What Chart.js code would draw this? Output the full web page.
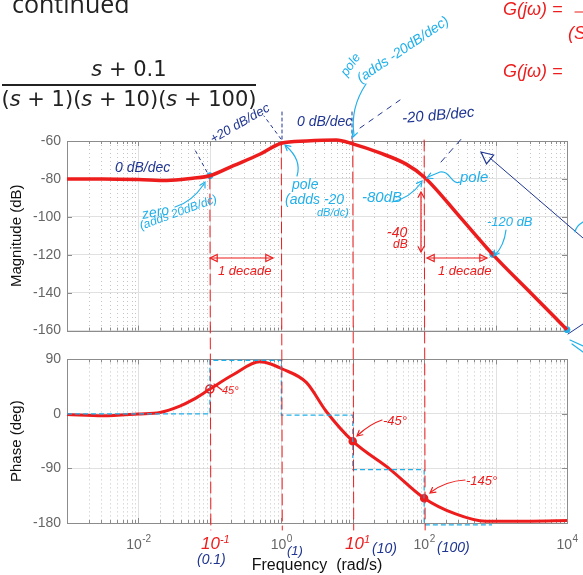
<!DOCTYPE html>
<html>
<head>
<meta charset="utf-8">
<script src="https://cdn.jsdelivr.net/npm/chart.js@4.4.0/dist/chart.umd.min.js"></script>
<style>
  html, body { margin: 0; padding: 0; background: #fff; }
  body { width: 583px; height: 575px; position: relative; overflow: hidden; }
  canvas { position: absolute; left: 0; }
  #mag { top: 120px; }
  #phase { top: 345px; }
  #ink { position: absolute; left: 0; top: 0; z-index: 2; pointer-events: none; }
  .t { position: absolute; white-space: nowrap; z-index: 3; line-height: 1;
       font-family: "Liberation Sans Narrow", "Liberation Sans", sans-serif; font-style: italic; }
  .t sup { font-size: 65%; vertical-align: 0.55em; line-height: 0; }
  .blue { color: #1f3591; }
  .cyan { color: #22b0ea; }
  .red { color: #ee1d1d; }
  .math { position: absolute; left: 0; width: 258px; text-align: center; z-index: 3;
          font-family: "DejaVu Sans", sans-serif; font-size: 21px; color: #222; line-height: 1; }
</style>
</head>
<body>

<div class="t" style="left:12px;top:-9px;font-family:'Open Sans',sans-serif;font-style:normal;font-size:25px;color:#222;">continued</div>
<div class="math" style="top:59px;"><i>s</i> + 0.1</div>
<div style="position:absolute;left:2px;top:84px;width:254px;height:1.5px;background:#222;"></div>
<div class="math" style="top:89px;">(<i>s</i> + 1)(<i>s</i> + 10)(<i>s</i> + 100)</div>

<canvas id="mag" width="583" height="225"></canvas>
<canvas id="phase" width="583" height="230"></canvas>
<svg id="ink" width="583" height="575"></svg>
<div id="notes"></div>

<script>
// values
const magFreq = [0.001, 0.00316, 0.01, 0.025, 0.0575, 0.1, 0.214, 0.5, 1, 2.24, 5.9, 10, 24, 56, 100, 316, 912, 3162, 10000];
const magDb = [-80, -80, -80.3, -80.8, -79.6, -78.3, -73, -67, -61.2, -60, -59.5, -61.5, -66.3, -72.2, -79, -100, -119.8, -140.4, -159.5];

const phaseFreq = [0.001, 0.00316, 0.01, 0.02, 0.038, 0.059, 0.1, 0.214, 0.5, 0.71, 1, 2.24, 4.27, 10, 33, 100, 275, 724, 3162, 10000];
const phaseDeg = [-1, -3, 0, 2.5, 13, 24, 41, 65, 86, 82.5, 75, 52, 4, -45, -91, -139, -165, -177, -177, -176];

const asymFreq = [0.001, 0.1, 1, 10, 100, 891];
const asymDeg = [0, 88.5, -2, -92, -183, -183];

const magMarkFreq = [0.1, 912, 10000];
const magMarkDb = [-78.3, -119.8, -159.5];
const phaseMarkFreq = [0.1, 10, 100];
const phaseMarkDeg = [41, -45, -139];

const freqTicks = [0.01, 1, 100, 10000];
const freqTickExp = ['-2', '0', '2', '4'];
const magTicks = [-160, -140, -120, -100, -80, -60];
const phaseTicks = [-180, -90, 0, 90];

const breakFreq = [0.1, 1, 10, 100];

const red = '#ee1d1d';
const cyan = '#22b0ea';
const blue = '#1f3591';
const gridGray = '#e1e1e1';
const boxGray = '#8c8c8c';
const tickGray = '#666';
const tickFont = { family: 'Liberation Sans', size: 14 };

const pts = (xs, ys) => xs.map((x, i) => ({ x: x, y: ys[i] }));

function seg(ctx, x1, y1, x2, y2) {
  ctx.beginPath();
  ctx.moveTo(x1, y1);
  ctx.lineTo(x2, y2);
  ctx.stroke();
}

// matlab style grid + box
const frame = {
  id: 'frame',
  beforeDatasetsDraw(chart) {
    const { ctx, chartArea: a, scales: { x, y } } = chart;
    ctx.save();
    ctx.lineWidth = 1;
    ctx.strokeStyle = '#c4c4c4';
    ctx.setLineDash([1, 3]);
    for (let d = -3; d < 4; d++) {
      for (let k = 2; k < 10; k++) {
        const px = Math.round(x.getPixelForValue(k * Math.pow(10, d))) + 0.5;
        seg(ctx, px, a.top, px, a.bottom);
      }
    }
    ctx.setLineDash([]);
    ctx.strokeStyle = gridGray;
    for (let d = -2; d < 4; d++) {
      const px = Math.round(x.getPixelForValue(Math.pow(10, d))) + 0.5;
      seg(ctx, px, a.top, px, a.bottom);
    }
    ctx.strokeStyle = boxGray;
    for (let d = -3; d < 4; d++) {
      for (let k = 1; k < 10; k++) {
        const px = Math.round(x.getPixelForValue(k * Math.pow(10, d))) + 0.5;
        const len = k === 1 ? 5 : 3;
        seg(ctx, px, a.top, px, a.top + len);
        seg(ctx, px, a.bottom, px, a.bottom - len);
      }
    }
    y.ticks.forEach(t => {
      const py = Math.round(y.getPixelForValue(t.value)) + 0.5;
      seg(ctx, a.left, py, a.left + 5, py);
      seg(ctx, a.right, py, a.right - 5, py);
    });
    ctx.strokeRect(Math.round(a.left) + 0.5, Math.round(a.top) + 0.5, Math.round(a.right - a.left), Math.round(a.bottom - a.top));
    ctx.restore();
  }
};

// 10 with a raised exponent under each decade tick
const expLabels = {
  id: 'expLabels',
  afterDraw(chart) {
    const { ctx, chartArea: a, scales: { x } } = chart;
    ctx.save();
    ctx.fillStyle = tickGray;
    ctx.textBaseline = 'alphabetic';
    x.ticks.forEach((t, i) => {
      const px = x.getPixelForValue(t.value);
      ctx.font = '14px "Liberation Sans"';
      const w1 = ctx.measureText('10').width;
      ctx.font = '10px "Liberation Sans"';
      const w2 = ctx.measureText(freqTickExp[i]).width;
      const left = px - (w1 + w2) / 2;
      ctx.font = '14px "Liberation Sans"';
      ctx.fillText('10', left, a.bottom + 26);
      ctx.font = '10px "Liberation Sans"';
      ctx.fillText(freqTickExp[i], left + w1 + 0.5, a.bottom + 19);
    });
    ctx.restore();
  }
};

function xAxis(labels) {
  return {
    type: 'logarithmic',
    min: 0.001,
    max: 10000,
    grid: { display: false, drawTicks: false },
    border: { display: false },
    afterBuildTicks: s => { s.ticks = freqTicks.map(v => ({ value: v })); },
    ticks: { display: false },
    title: {
      display: labels,
      text: 'Frequency  (rad/s)',
      color: '#111',
      font: { family: 'Liberation Sans', size: 16 },
      padding: { top: 0, bottom: 0 }
    },
    afterFit: s => {
      s.height = labels ? 52 : 0;
      s.paddingLeft = 0;
      s.paddingRight = 0;
    }
  };
}

function yAxis(min, max, ticks, title) {
  return {
    min: min,
    max: max,
    afterBuildTicks: s => { s.ticks = ticks.map(v => ({ value: v })); },
    grid: { color: gridGray, drawTicks: false },
    border: { display: false },
    ticks: { color: tickGray, font: tickFont, padding: 6, callback: v => String(v) },
    title: {
      display: true,
      text: title,
      color: '#111',
      font: { family: 'Liberation Sans', size: 15 },
      padding: { top: 8, bottom: 0 }
    },
    afterFit: s => { s.width = 67; }
  };
}

const baseOptions = {
  responsive: false,
  animation: false,
  devicePixelRatio: 1,
  events: [],
  plugins: { legend: { display: false }, tooltip: { enabled: false } }
};

const magChart = new Chart(document.querySelector('#mag'), {
  type: 'line',
  data: {
    datasets: [{
      data: pts(magFreq, magDb),
      borderColor: red,
      borderWidth: 3.5,
      pointRadius: 0,
      cubicInterpolationMode: 'monotone',
      clip: 4
    }, {
      data: pts(magMarkFreq, magMarkDb),
      showLine: false,
      pointRadius: 3,
      pointBackgroundColor: cyan,
      pointBorderColor: cyan,
      clip: 6
    }]
  },
  options: Object.assign({}, baseOptions, {
    layout: { padding: { top: 21, right: 16, bottom: 8, left: 0 } },
    scales: { x: xAxis(false), y: yAxis(-160, -60, magTicks, 'Magnitude (dB)') }
  }),
  plugins: [frame]
});

const phaseChart = new Chart(document.querySelector('#phase'), {
  type: 'line',
  data: {
    datasets: [{
      data: pts(asymFreq, asymDeg),
      borderColor: cyan,
      borderWidth: 1.2,
      borderDash: [5, 3],
      stepped: true,
      pointRadius: 0,
      clip: 5
    }, {
      data: pts(phaseFreq, phaseDeg),
      borderColor: red,
      borderWidth: 3,
      pointRadius: 0,
      cubicInterpolationMode: 'monotone',
      clip: 4
    }, {
      data: pts(phaseMarkFreq, phaseMarkDeg),
      showLine: false,
      pointRadius: [4, 3.5, 3.5],
      pointBorderWidth: 1.5,
      pointBackgroundColor: ['rgba(0,0,0,0)', red, red],
      pointBorderColor: red
    }]
  },
  options: Object.assign({}, baseOptions, {
    layout: { padding: { top: 8, right: 16, bottom: 0, left: 0 } },
    scales: { x: xAxis(true), y: yAxis(-180, 90, phaseTicks, 'Phase (deg)') }
  }),
  plugins: [frame, expLabels]
});

// hand drawn marks on top
const ink = document.querySelector('#ink');
let svg = '';

function line(x1, y1, x2, y2, color, w, dash) {
  svg += `<line x1="${x1}" y1="${y1}" x2="${x2}" y2="${y2}" stroke="${color}" stroke-width="${w || 1.2}"` +
    (dash ? ` stroke-dasharray="${dash}"` : '') + ' stroke-linecap="round"/>';
}

function path(d, color, w) {
  svg += `<path d="${d}" fill="none" stroke="${color}" stroke-width="${w || 1.2}" stroke-linecap="round"/>`;
}

function head(tx, ty, fx, fy, color, size) {
  const a = Math.atan2(ty - fy, tx - fx);
  const s = size || 6;
  const p1 = [tx - s * Math.cos(a - 0.5), ty - s * Math.sin(a - 0.5)];
  const p2 = [tx - s * Math.cos(a + 0.5), ty - s * Math.sin(a + 0.5)];
  path(`M${p1[0]},${p1[1]} L${tx},${ty} L${p2[0]},${p2[1]}`, color, 1.2);
}

function tri(tx, ty, fx, fy, color, size) {
  const a = Math.atan2(ty - fy, tx - fx);
  const s = size || 7;
  const p1 = [tx - s * Math.cos(a - 0.45), ty - s * Math.sin(a - 0.45)];
  const p2 = [tx - s * Math.cos(a + 0.45), ty - s * Math.sin(a + 0.45)];
  path(`M${p1[0]},${p1[1]} L${tx},${ty} L${p2[0]},${p2[1]} Z`, color, 1.2);
}

// red dashed break frequency lines
const breakTop = [178, 142, 140, 140];
breakFreq.forEach((f, i) => {
  const px = magChart.scales.x.getPixelForValue(f);
  line(px, breakTop[i], px + 1, 530, red, 1, '11 5');
});

// dark blue slope guides
line(207, 172, 195, 150, blue, 1, '3 4');
line(281, 139, 264, 116, blue, 1, '3 4');
line(282, 112, 282, 140, blue, 1, '3 3');
line(352, 112, 352, 140, blue, 1, '3 3');
line(360, 128, 400, 100, blue, 1, '5 6');
line(441, 162, 463, 137, blue, 1, '6 6');
line(490, 158, 583, 238, blue, 1);
tri(481, 152, 492, 161, blue, 13);
line(568, 334, 583, 324, blue, 1);

// cyan arrows
path('M175,207 Q192,202 204,184', cyan);
head(205, 182, 199, 193, cyan);
path('M297,176 Q302,160 286,146', cyan);
head(285, 145, 293, 152, cyan);
path('M366,84 Q350,108 354,135', cyan);
head(353, 137, 356, 128, cyan);
path('M392,202 Q410,198 421,183', cyan);
head(422, 181, 415, 190, cyan);
path('M460,182 C452,186 450,170 440,172 L428,177', cyan);
head(427, 178, 436, 174, cyan);
path('M506,230 Q504,246 495,255', cyan);
head(494, 256, 499, 248, cyan);
path('M583,346 L570,340', cyan);
path('M583,352 L572,344', cyan);
path('M583,222 Q576,226 575,232', cyan);

// red arrows
line(211, 258, 272, 258, red, 1.2);
tri(210, 258, 220, 258, red, 8);
tri(273, 258, 263, 258, red, 8);
line(428, 258, 486, 258, red, 1.2);
tri(427, 258, 437, 258, red, 8);
tri(487, 258, 477, 258, red, 8);
line(421, 193, 421, 251, red, 1.2);
head(421, 192, 421, 200, red, 6);
head(421, 252, 421, 244, red, 6);
path('M222,390 L214,384', red);
path('M382,420 Q370,424 358,435', red);
head(357, 436, 364, 430, red);
path('M465,480 Q446,481 431,492', red);
head(430, 493, 438, 487, red);
line(575, 12, 583, 12, red, 1.2);

ink.innerHTML = svg;

// handwritten notes
const notes = [
  ['0 dB/dec', 'blue', 115, 160, 14, 0],
  ['+20 dB/dec', 'blue', 211, 133, 13, -30],
  ['0 dB/dec', 'blue', 297, 114, 14, 0],
  ['-20 dB/dec', 'blue', 402, 110, 15, -5],
  ['pole', 'cyan', 343, 68, 13, -55],
  ['(adds -20dB/dec)', 'cyan', 358, 72, 14, -34],
  ['zero', 'cyan', 142, 207, 14, -10],
  ['(adds 20dB/dc)', 'cyan', 140, 220, 12, -20],
  ['pole', 'cyan', 292, 177, 14, 0],
  ['(adds -20', 'cyan', 285, 192, 14, 0],
  ['dB/dc)', 'cyan', 317, 207, 11, 0],
  ['-80dB', 'cyan', 362, 189, 15, 0],
  ['pole', 'cyan', 460, 169, 15, 0],
  ['-40', 'red', 387, 225, 14, 0],
  ['dB', 'red', 393, 238, 12, 0],
  ['-120 dB', 'cyan', 487, 215, 13, 0],
  ['1 decade', 'red', 218, 264, 13, 0],
  ['1 decade', 'red', 438, 264, 13, 0],
  ['45°', 'red', 222, 385, 11, 0],
  ['-45°', 'red', 383, 414, 13, 0],
  ['-145°', 'red', 466, 474, 13, 0],
  ['10<sup>-1</sup>', 'red', 201, 535, 17, 0],
  ['(0.1)', 'blue', 197, 552, 14, 0],
  ['(1)', 'blue', 287, 544, 13, 0],
  ['10<sup>1</sup>', 'red', 345, 535, 17, 0],
  ['(10)', 'blue', 372, 541, 14, 0],
  ['(100)', 'blue', 437, 540, 14, 0],
  ['G(jω) =', 'red', 503, 0, 18, 0],
  ['(S', 'red', 568, 24, 18, 0],
  ['G(jω) =', 'red', 503, 62, 18, 0]
];

const holder = document.querySelector('#notes');
notes.forEach(n => {
  const d = document.createElement('div');
  d.className = 't ' + n[1];
  d.innerHTML = n[0];
  d.style.left = n[2] + 'px';
  d.style.top = n[3] + 'px';
  d.style.fontSize = n[4] + 'px';
  if (n[5]) {
    d.style.transform = `rotate(${n[5]}deg)`;
    d.style.transformOrigin = 'left center';
  }
  holder.appendChild(d);
});
</script>
</body>
</html>
